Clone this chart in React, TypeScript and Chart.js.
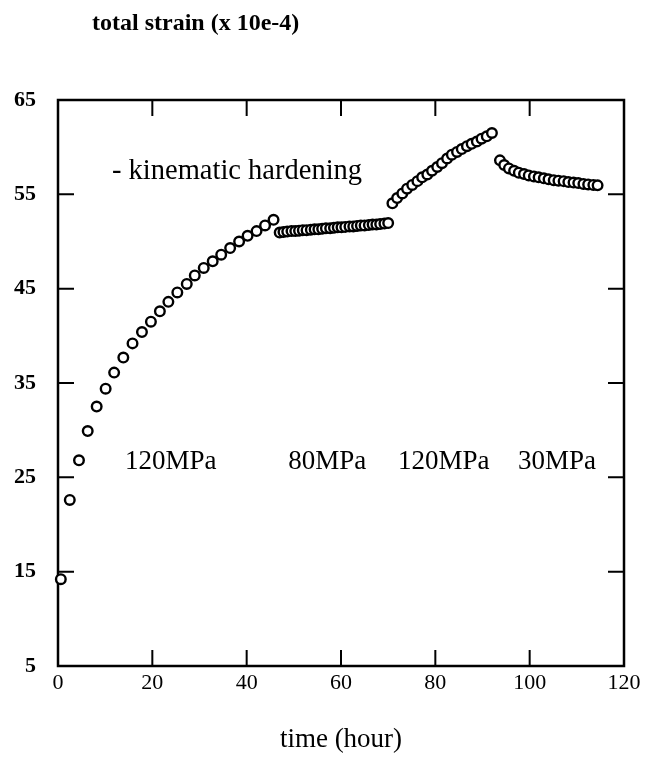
import React, { useEffect, useRef } from "react";
import { Chart, registerables } from "chart.js";

Chart.register(...registerables);

// ---- data (time in hours, total strain x 10e-4) ----
const stage1Time = [0.6, 2.5, 4.45, 6.3, 8.2, 10.1, 11.9, 13.85, 15.8, 17.8, 19.7, 21.6, 23.4, 25.3, 27.3, 29.0, 30.9, 32.8, 34.6, 36.5, 38.4, 40.2, 42.1, 43.9, 45.7];
const stage1Strain = [14.2, 22.6, 26.8, 29.9, 32.5, 34.4, 36.1, 37.7, 39.2, 40.4, 41.5, 42.6, 43.6, 44.6, 45.5, 46.4, 47.2, 47.9, 48.6, 49.3, 50.0, 50.6, 51.1, 51.7, 52.3];

const stage2Time = [47.0, 47.8, 48.6, 49.5, 50.3, 51.1, 51.9, 52.7, 53.6, 54.4, 55.2, 56.0, 56.8, 57.7, 58.5, 59.3, 60.1, 60.9, 61.8, 62.6, 63.4, 64.2, 65.0, 65.9, 66.7, 67.5, 68.3, 69.2, 70.0];
const stage2Strain = [50.95, 51.0, 51.05, 51.1, 51.1, 51.15, 51.2, 51.2, 51.25, 51.3, 51.3, 51.35, 51.4, 51.4, 51.45, 51.5, 51.5, 51.55, 51.6, 51.6, 51.65, 51.7, 51.7, 51.75, 51.8, 51.8, 51.85, 51.9, 51.95];

const stage3Time = [70.9, 71.9, 73.0, 74.0, 75.1, 76.2, 77.2, 78.3, 79.3, 80.4, 81.4, 82.5, 83.5, 84.6, 85.6, 86.7, 87.7, 88.8, 89.8, 90.9, 92.0];
const stage3Strain = [54.05, 54.6, 55.1, 55.6, 56.0, 56.4, 56.8, 57.1, 57.5, 57.9, 58.3, 58.8, 59.2, 59.5, 59.8, 60.1, 60.35, 60.6, 60.9, 61.15, 61.5];

const stage4Time = [93.7, 94.6, 95.6, 96.7, 97.7, 98.8, 99.8, 100.9, 101.9, 103.0, 104.0, 105.1, 106.1, 107.2, 108.2, 109.3, 110.3, 111.4, 112.4, 113.5, 114.4];
const stage4Strain = [58.6, 58.1, 57.75, 57.5, 57.3, 57.15, 57.0, 56.9, 56.8, 56.7, 56.6, 56.5, 56.45, 56.4, 56.3, 56.25, 56.2, 56.1, 56.05, 56.0, 55.95];

const xTicks = [0, 20, 40, 60, 80, 100, 120];
const yTicks = [5, 15, 25, 35, 45, 55, 65];

const chartTitle = "total strain (x 10e-4)";
const xAxisTitle = "time (hour)";
const noteLabels = ["- kinematic hardening", "120MPa", "80MPa", "120MPa", "30MPa"];
// anchor (left edge, baseline) in data units for each note
const noteTimes = [11.45, 14.2, 48.8, 72.1, 97.5];
const noteStrains = [56.6, 25.9, 25.9, 25.9, 25.9];
const noteSizes = [28.5, 27, 27, 27, 27];

const FONT = "'Liberation Serif', 'Times New Roman', serif";

const pairs = (xs: number[], ys: number[]) => xs.map((x, i) => ({ x, y: ys[i] }));

const framePlugin = {
  id: "frameTicks",
  beforeDatasetsDraw(chart: any) {
    const { ctx, chartArea: a, scales } = chart;
    ctx.save();
    ctx.strokeStyle = "#000";
    ctx.lineWidth = 2.5;
    ctx.strokeRect(a.left, a.top, a.right - a.left, a.bottom - a.top);
    ctx.lineWidth = 2;
    const L = 16;
    ctx.beginPath();
    for (const v of xTicks) {
      if (v === xTicks[0] || v === xTicks[xTicks.length - 1]) continue;
      const p = scales.x.getPixelForValue(v);
      ctx.moveTo(p, a.bottom);
      ctx.lineTo(p, a.bottom - L);
      ctx.moveTo(p, a.top);
      ctx.lineTo(p, a.top + L);
    }
    for (const v of yTicks) {
      if (v === yTicks[0] || v === yTicks[yTicks.length - 1]) continue;
      const p = scales.y.getPixelForValue(v);
      ctx.moveTo(a.left, p);
      ctx.lineTo(a.left + L, p);
      ctx.moveTo(a.right, p);
      ctx.lineTo(a.right - L, p);
    }
    ctx.stroke();
    ctx.restore();
  },
  afterDraw(chart: any) {
    const { ctx, scales } = chart;
    ctx.save();
    ctx.fillStyle = "#000";
    ctx.textAlign = "left";
    ctx.textBaseline = "alphabetic";
    noteLabels.forEach((t, i) => {
      ctx.font = `${noteSizes[i]}px ${FONT}`;
      ctx.fillText(t, scales.x.getPixelForValue(noteTimes[i]), scales.y.getPixelForValue(noteStrains[i]));
    });
    ctx.font = `bold 24px ${FONT}`;
    ctx.textBaseline = "middle";
    ctx.fillText(chartTitle, 92, 24);
    ctx.restore();
  },
};

export default function App() {
  const ref = useRef<HTMLCanvasElement>(null);
  useEffect(() => {
    if (!ref.current) return;
    const ds = (xs: number[], ys: number[]) => ({
      data: pairs(xs, ys),
      showLine: false,
      pointRadius: 4.8,
      pointBorderWidth: 2.4,
      pointBorderColor: "#000",
      pointBackgroundColor: "#fff",
      clip: false as any,
    });
    const chart = new Chart(ref.current, {
      type: "scatter",
      data: {
        datasets: [
          ds(stage1Time, stage1Strain),
          ds(stage2Time, stage2Strain),
          ds(stage3Time, stage3Strain),
          ds(stage4Time, stage4Strain),
        ],
      },
      options: {
        animation: false,
        responsive: false,
        events: [],
        layout: { padding: { top: 100, left: 0, right: 32, bottom: 0 } },
        plugins: { legend: { display: false }, tooltip: { enabled: false }, title: { display: false } },
        scales: {
          x: {
            type: "linear",
            min: 0,
            max: 120,
            afterBuildTicks: (s: any) => { s.ticks = xTicks.map((v) => ({ value: v })); },
            grid: { display: false, drawTicks: false },
            border: { display: false },
            ticks: { color: "#000", padding: 4, maxRotation: 0, font: { family: FONT, size: 22 } },
            title: { display: true, text: xAxisTitle, color: "#000", font: { family: FONT, size: 27 }, padding: { top: 0, bottom: 2 } },
            afterFit: (s: any) => { s.height = 92; },
          },
          y: {
            type: "linear",
            min: 5,
            max: 65,
            afterBuildTicks: (s: any) => { s.ticks = yTicks.map((v) => ({ value: v })); },
            grid: { display: false, drawTicks: false },
            border: { display: false },
            ticks: { color: "#000", padding: 22, font: { family: FONT, size: 22, weight: "bold" } },
            afterFit: (s: any) => { s.width = 58; },
          },
        },
      },
      plugins: [framePlugin],
    });
    return () => chart.destroy();
  }, []);
  return (
    <div style={{ position: "fixed", left: 0, top: 0, width: 656, height: 758, background: "#fff" }}>
      <canvas ref={ref} width={656} height={758} style={{ width: 656, height: 758, display: "block" }} />
    </div>
  );
}
